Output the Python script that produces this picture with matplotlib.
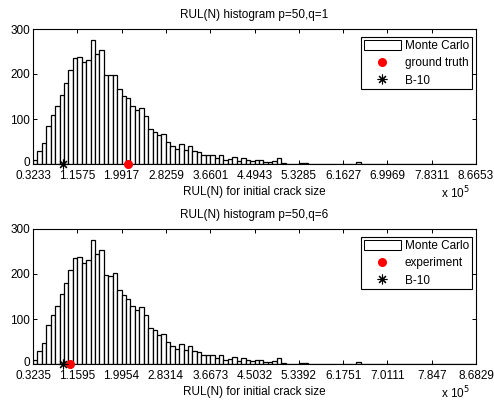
"""RUL(N) histograms for two (p, q) settings, Monte Carlo vs reference points."""
import numpy as np
import matplotlib
matplotlib.use("Agg")
import matplotlib.pyplot as plt
import matplotlib.transforms as mtransforms
from matplotlib.patches import Patch
from matplotlib.lines import Line2D

plt.rcParams.update({
    'font.family': ['Liberation Sans', 'DejaVu Sans'],
    'font.size': 8.5,
    'axes.linewidth': 0.8,
    'xtick.direction': 'in',
    'ytick.direction': 'in',
    'xtick.top': True,
    'ytick.right': True,
    'xtick.major.size': 3,
    'ytick.major.size': 3,
    'xtick.major.width': 0.7,
    'ytick.major.width': 0.7,
})

# ============ DATA (x in units of 1e5 cycles) ============
titles = ["RUL(N) histogram p=50,q=1", "RUL(N) histogram p=50,q=6"]
point_labels = ["ground truth", "experiment"]

x_min_1, x_max_1 = 0.3233, 8.6653
x_min_2, x_max_2 = 0.32354, 8.68294

xtick_labels_1 = ["0.3233", "1.1575", "1.9917", "2.8259", "3.6601", "4.4943",
                  "5.3285", "6.1627", "6.9969", "7.8311", "8.6653"]
xtick_labels_2 = ["0.3235", "1.1595", "1.9954", "2.8314", "3.6673", "4.5032",
                  "5.3392", "6.1751", "7.0111", "7.847", "8.6829"]

counts_1 = [9, 30, 46, 85, 109, 129, 154, 180, 208, 235,
            238, 226, 232, 276, 244, 254, 197, 197, 197, 166,
            152, 146, 128, 119, 125, 107, 78, 72, 64, 67,
            50, 41, 33, 45, 31, 41, 30, 27, 19, 19,
            19, 13, 21, 9, 11, 16, 7, 13, 8, 7,
            8, 9, 4, 4, 6, 14, 2, 1, 1, 1,
            2, 2, 1, 1, 1, 1, 1, 1, 1, 0,
            0, 1, 1, 4, 0, 0, 0, 0, 0, 1,
            0, 1, 1, 1, 1, 0, 0, 0, 0, 1,
            1, 1, 0, 0, 0, 0, 0, 0, 0, 1]

counts_2 = [10, 30, 47, 86, 109, 129, 155, 180, 208, 235,
            237, 225, 231, 276, 245, 254, 198, 195, 203, 165,
            154, 145, 129, 119, 126, 108, 80, 75, 65, 66,
            50, 41, 34, 45, 31, 40, 30, 27, 19, 19,
            19, 13, 21, 9, 11, 16, 7, 13, 8, 7,
            8, 9, 4, 4, 6, 14, 2, 1, 1, 1,
            2, 2, 1, 1, 1, 1, 1, 1, 1, 0,
            0, 1, 1, 4, 0, 0, 0, 0, 0, 1,
            0, 1, 1, 1, 1, 0, 0, 0, 0, 1,
            1, 1, 0, 0, 0, 0, 0, 0, 0, 1]

point_x = [2.107, 1.027]      # ground truth / experiment
b10_x = [0.894, 0.895]        # B-10 life


def draw_panel(ax, counts, x_min, x_max, tick_labels, title, pt_x, pt_label, b10):
    edges = np.linspace(x_min, x_max, len(counts) + 1)
    ax.bar(edges[:-1], counts, width=np.diff(edges), align='edge',
           facecolor='white', edgecolor='black', linewidth=0.9)
    ax.plot([pt_x], [0], 'o', color='red', markersize=5.5, clip_on=False, zorder=5)
    ax.plot([b10], [0], marker=(8, 2, 0), color='black', markersize=7,
            markeredgewidth=0.8, linestyle='none', clip_on=False, zorder=5)

    ax.set_xlim(x_min, x_max)
    ax.set_ylim(0, 300)
    ax.set_xticks(np.linspace(x_min, x_max, len(tick_labels)))
    ax.set_xticklabels(tick_labels)
    ax.set_yticks([0, 100, 200, 300])
    ax.tick_params(axis='x', pad=4)
    ax.tick_params(axis='y', pad=2)
    # lift the "0" label a touch so it clears the first x label
    lift = mtransforms.ScaledTranslation(0, 2 / 72, ax.figure.dpi_scale_trans)
    lab0 = ax.get_yticklabels()[0]
    lab0.set_transform(lab0.get_transform() + lift)

    ax.set_title(title, fontsize=8.5, pad=8)
    ax.set_xlabel("RUL(N) for initial crack size", labelpad=3)
    ax.text(0.987, -0.215, r"x 10$^5$", transform=ax.transAxes,
            ha='right', va='center', fontsize=8.5)

    handles = [
        Patch(facecolor='white', edgecolor='black', linewidth=0.75),
        Line2D([], [], marker='o', color='red', linestyle='none', markersize=5.5),
        Line2D([], [], marker=(8, 2, 0), color='black', linestyle='none',
               markersize=7, markeredgewidth=0.8),
    ]
    leg = ax.legend(handles, ["Monte Carlo", pt_label, "B-10"],
                    loc='upper right', bbox_to_anchor=(0.991, 0.941),
                    borderaxespad=0, fancybox=False, edgecolor='black',
                    framealpha=1, handlelength=3.1, handleheight=0.9,
                    handletextpad=0.35, labelspacing=0.45, borderpad=0.25)
    leg.get_frame().set_linewidth(0.8)


fig = plt.figure(figsize=(4.94, 4.01), dpi=100)
ax1 = fig.add_axes([33 / 494, 1 - 164 / 401, 443 / 494, 135 / 401])
ax2 = fig.add_axes([33 / 494, 1 - 364 / 401, 443 / 494, 135 / 401])

draw_panel(ax1, counts_1, x_min_1, x_max_1, xtick_labels_1, titles[0],
           point_x[0], point_labels[0], b10_x[0])
draw_panel(ax2, counts_2, x_min_2, x_max_2, xtick_labels_2, titles[1],
           point_x[1], point_labels[1], b10_x[1])

fig.savefig("out.png", dpi=100, facecolor='white')
plt.close(fig)
